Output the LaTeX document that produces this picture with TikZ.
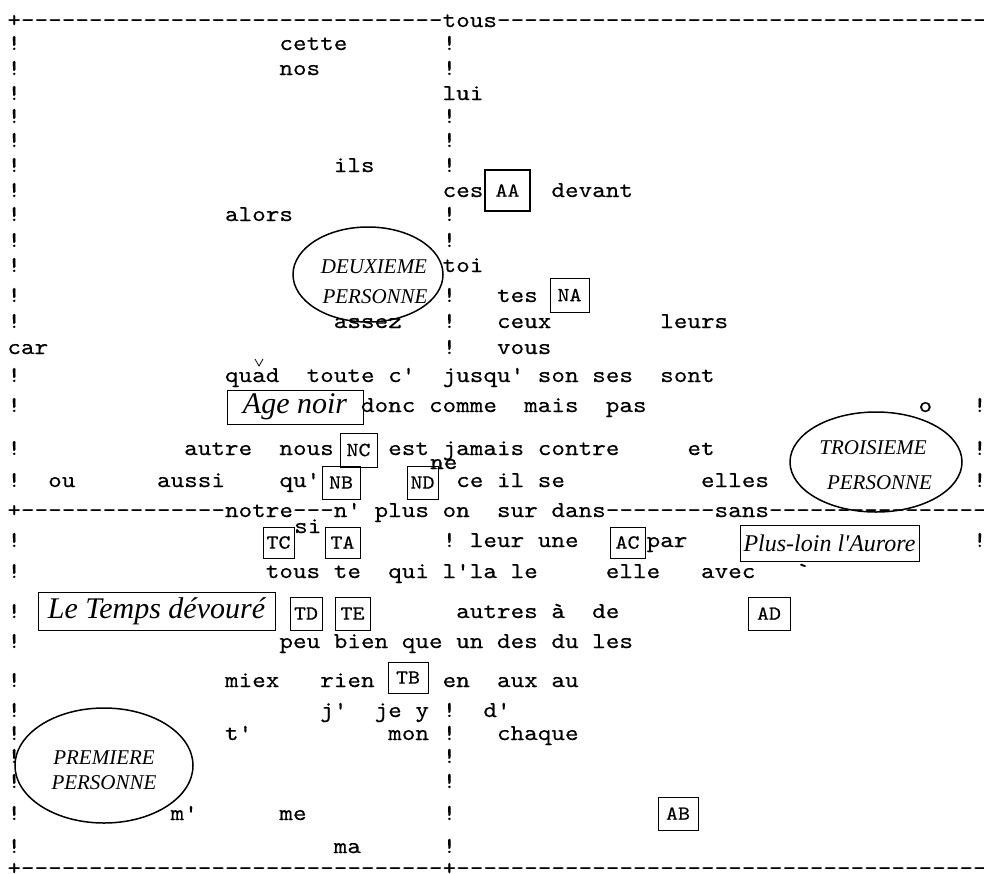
\documentclass[tikz,border=0pt]{standalone}
\usepackage{fontspec}
\usetikzlibrary{shapes.geometric}
\newfontfamily\typefont{lmmono10-regular}[Extension=.otf,FakeStretch=1.141,FakeBold=0.3]
\newfontfamily\labelfont{Liberation Serif}

% one typed line of the listing: #1 = baseline (px), #2 = column/word pairs
\newcommand{\typerow}[2]{%
  \foreach \c/\t in {#2}
    \node[ch] (w-#1-\c) at ({\c*13.6+7.2},#1) {\t};}
% a run of typed dashes: #1 = baseline, #2..#3 = first and last column
\newcommand{\dashrun}[3]{%
  \foreach \c in {#2,...,#3}
    \node[ch] (d-#1-\c) at ({\c*13.6+7.2},#1) {-};}

\begin{document}
\begin{tikzpicture}[
    x=1pt, y=-1pt,
    ch/.style={anchor=base west, inner sep=0pt,
               font=\typefont\fontsize{22.7}{22.7}\selectfont},
    tag/.style={draw, line width=1pt, inner sep=0pt,
                font=\typefont\fontsize{20}{20}\selectfont},
    booktag/.style={draw, line width=1pt, inner sep=0pt,
                    font=\labelfont\itshape\fontsize{30}{30}\selectfont},
    persona/.style={inner sep=0pt,
                    font=\labelfont\itshape\fontsize{21}{21}\selectfont},
    oval/.style={ellipse, draw, line width=1.5pt, inner sep=0pt},
]
\useasboundingbox (0,0) rectangle (984,873);
\fill[white] (0,0) rectangle (984,873);

% --- upper frame line
\typerow{27}{0/+,32/tous}
\dashrun{27}{1}{31}
\dashrun{27}{36}{71}

% --- upper half
\typerow{50}{0/!,20/cette,32/!}
\typerow{75}{0/!,20/nos,32/!}
\typerow{100}{0/!,32/lui}
\typerow{123}{0/!,32/!}
\typerow{147}{0/!,32/!}
\typerow{172}{0/!,24/ils,32/!}
\typerow{197}{0/!,32/ces,40/devant}
\typerow{221}{0/!,16/alors,32/!}
\typerow{247}{0/!,32/!}
\typerow{272}{0/!,32/toi}
\typerow{302}{0/!,32/!,36/tes}
\typerow{328}{0/!,24/assez,32/!,36/ceux,48/leurs}
\typerow{354}{0/car,32/!,36/vous}
\typerow{382}{0/!,16/quad,22/toute,28/c',32/jusqu',39/son,43/ses,48/sont}
\typerow{412}{0/!,26/donc,31/comme,38/mais,44/pas,67/o,71/!}
\typerow{455}{0/!,13/autre,20/nous,28/est,32/jamais,39/contre,50/et,71/!}
\typerow{487}{0/!,3/ou,11/aussi,20/qu',33/ce,36/il,39/se,51/elles,71/!}
\node[ch] (ne) at (430,469) {ne};
\draw[line width=0.8pt] (255,359) -- (259,366) -- (263,359);

% --- horizontal axis
\typerow{517}{0/+,16/notre,24/n',27/plus,32/on,36/sur,40/dans,52/sans}
\dashrun{517}{1}{15}
\dashrun{517}{21}{23}
\dashrun{517}{44}{51}
\dashrun{517}{56}{71}

% --- lower half
\typerow{547}{0/!,32/!,34/leur,39/une,47/par,71/!}
\node[ch] (si) at (294,533) {si};
\typerow{578}{0/!,19/tous,24/te,28/qui,32/l'la,37/le,44/elle,51/avec,58/`}
\typerow{618}{0/!,33/autres,40/à,43/de}
\typerow{648}{0/!,20/peu,24/bien,29/que,33/un,36/des,40/du,43/les}
\typerow{687}{0/!,16/miex,23/rien,32/en,36/aux,40/au}
\typerow{717}{0/!,23/j',27/je,30/y,32/!,35/d'}
\typerow{740}{0/!,16/t',28/mon,32/!,36/chaque}
\typerow{763}{0/!,32/!}
\typerow{788}{0/!,32/!}
\typerow{820}{0/!,12/m',20/me,32/!}
\typerow{853}{0/!,24/ma,32/!}

% --- lower frame line
\typerow{875}{0/+,32/+}
\dashrun{875}{1}{31}
\dashrun{875}{33}{71}

% --- boxed texts
\node[tag, line width=1.4pt, minimum width=45pt, minimum height=41pt] (AA) at (507.5,190.5) {AA};
\node[tag, minimum width=39pt, minimum height=34pt] (NA) at (569.5,295) {NA};
\node[tag, minimum width=37pt, minimum height=34pt] (NC) at (358.5,450) {NC};
\node[tag, minimum width=38pt, minimum height=33pt] (NB) at (341,482.5) {NB};
\node[tag, minimum width=31pt, minimum height=33pt] (ND) at (422.5,482.5) {ND};
\node[tag, minimum width=31pt, minimum height=31pt] (TC) at (278.5,542.5) {TC};
\node[tag, minimum width=35pt, minimum height=31pt] (TA) at (342.5,542.5) {TA};
\node[tag, minimum width=35pt, minimum height=31pt] (AC) at (627.5,542.5) {AC};
\node[tag, minimum width=32pt, minimum height=33pt] (TD) at (306,613.5) {TD};
\node[tag, minimum width=35pt, minimum height=33pt] (TE) at (352.5,613.5) {TE};
\node[tag, minimum width=42pt, minimum height=33pt] (AD) at (769,613.5) {AD};
\node[tag, minimum width=40pt, minimum height=31pt] (TB) at (408,677.5) {TB};
\node[tag, minimum width=40pt, minimum height=33pt] (AB) at (678,813.5) {AB};

% --- titles
\node[booktag, minimum width=136pt, minimum height=34pt] (agenoir) at (295,407) {Age noir};
\node[booktag, minimum width=237pt, minimum height=38pt] (temps) at (156.5,611) {Le Temps dévouré};
\node[booktag, font=\labelfont\itshape\fontsize{24}{24}\selectfont,
      minimum width=179pt, minimum height=36pt] (aurore) at (829.5,543) {Plus-loin l'Aurore};

% --- persons
\node[oval, minimum width=150pt, minimum height=95pt] (deux) at (368,274.5) {};
\node[persona] (deux-a) at (374,267) {DEUXIEME};
\node[persona] (deux-b) at (375,297) {PERSONNE};
\node[oval, minimum width=172pt, minimum height=100pt] (trois) at (876,462) {};
\node[persona] (trois-a) at (873,448) {TROISIEME};
\node[persona] (trois-b) at (879.5,483) {PERSONNE};
\node[oval, minimum width=178pt, minimum height=115pt] (prem) at (104,765.5) {};
\node[persona] (prem-a) at (104,758) {PREMIERE};
\node[persona] (prem-b) at (104,783) {PERSONNE};
\end{tikzpicture}
\end{document}
